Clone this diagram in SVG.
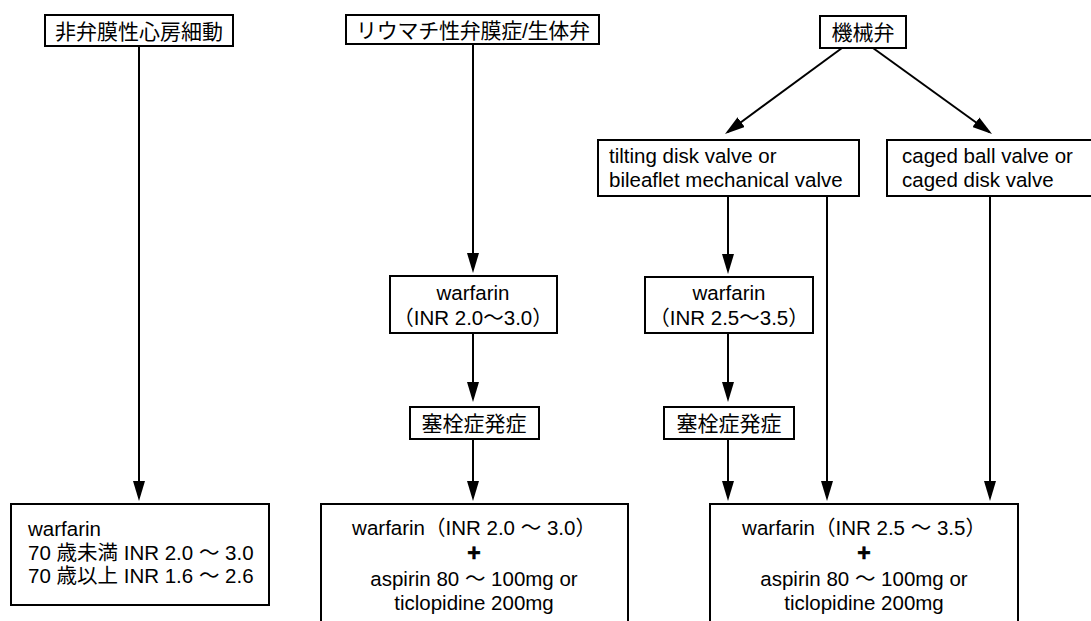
<svg xmlns="http://www.w3.org/2000/svg" width="1091" height="621" viewBox="0 0 1091 621">
<style>
.box{fill:#fff;stroke:#000;stroke-width:2}
.ln{fill:none;stroke:#000;stroke-width:2;marker-end:url(#ah)}
text{font-family:"Liberation Sans","Noto Sans CJK JP",sans-serif;fill:#000;font-size:20.5px}
.cjk{font-size:21px}
.c{text-anchor:middle}
.plus{font-size:23px;font-weight:bold;text-anchor:middle;stroke:#000;stroke-width:0.6}
</style>
<defs>
<marker id="ah" markerUnits="userSpaceOnUse" markerWidth="20" markerHeight="12" refX="17" refY="6" orient="auto">
<path d="M0,0 L20,6 L0,12 Z" fill="#000"/>
</marker>
</defs>
<rect width="1091" height="621" fill="#fff"/>

<g id="connectors">
<line class="ln" x1="139" y1="46" x2="139" y2="498"/>
<line class="ln" x1="473" y1="43" x2="473" y2="270"/>
<line class="ln" x1="473" y1="333" x2="473" y2="399"/>
<line class="ln" x1="473" y1="439" x2="473" y2="498"/>
<line class="ln" x1="842" y1="48" x2="727.4" y2="132.2"/>
<line class="ln" x1="873" y1="48" x2="989.6" y2="132.2"/>
<line class="ln" x1="728" y1="196" x2="728" y2="271"/>
<line class="ln" x1="728" y1="333" x2="728" y2="399"/>
<line class="ln" x1="728" y1="439" x2="728" y2="498"/>
<line class="ln" x1="827" y1="196" x2="827" y2="498"/>
<line class="ln" x1="990" y1="196" x2="990" y2="498"/>
</g>

<g id="n-af">
<rect class="box" x="45" y="15" width="188" height="31"/>
<text class="cjk c" x="139" y="39">非弁膜性心房細動</text>
</g>

<g id="n-rheum">
<rect class="box" x="346" y="15" width="253" height="29"/>
<text class="cjk c" x="473" y="38" textLength="234">リウマチ性弁膜症/生体弁</text>
</g>

<g id="n-mech">
<rect class="box" x="820" y="16" width="86" height="32"/>
<text class="cjk c" x="863" y="40">機械弁</text>
</g>

<g id="n-tilting">
<rect class="box" x="598" y="140" width="261" height="56"/>
<text x="609" y="163">tilting disk valve or</text>
<text x="609" y="187">bileaflet mechanical valve</text>
</g>

<g id="n-caged">
<rect class="box" x="887" y="140" width="220" height="56"/>
<text x="902" y="163">caged ball valve or</text>
<text x="902" y="187">caged disk valve</text>
</g>

<g id="n-warf1">
<rect class="box" x="390" y="276" width="167" height="57"/>
<text class="c" x="473" y="300">warfarin</text>
<text class="c" x="473" y="325">（INR 2.0～3.0）</text>
</g>

<g id="n-warf2">
<rect class="box" x="645" y="277" width="168" height="56"/>
<text class="c" x="729" y="300">warfarin</text>
<text class="c" x="729" y="325">（INR 2.5～3.5）</text>
</g>

<g id="n-emb1">
<rect class="box" x="410" y="407" width="129" height="32"/>
<text class="cjk c" x="474" y="431">塞栓症発症</text>
</g>

<g id="n-emb2">
<rect class="box" x="664" y="407" width="130" height="32"/>
<text class="cjk c" x="729" y="431">塞栓症発症</text>
</g>

<g id="n-bottom-left">
<rect class="box" x="11" y="504" width="258" height="101"/>
<text x="28" y="536">warfarin</text>
<text x="28" y="560">70 歳未満 INR 2.0 ～ 3.0</text>
<text x="28" y="583">70 歳以上 INR 1.6 ～ 2.6</text>
</g>

<g id="n-bottom-mid">
<rect class="box" x="321" y="504" width="307" height="140"/>
<text class="c" x="474" y="535">warfarin（INR 2.0 ～ 3.0）</text>
<text class="plus" x="474" y="561">+</text>
<text class="c" x="474" y="586">aspirin 80 ～ 100mg or</text>
<text class="c" x="474" y="610">ticlopidine 200mg</text>
</g>

<g id="n-bottom-right">
<rect class="box" x="710" y="504" width="308" height="140"/>
<text class="c" x="864" y="535">warfarin（INR 2.5 ～ 3.5）</text>
<text class="plus" x="864" y="561">+</text>
<text class="c" x="864" y="586">aspirin 80 ～ 100mg or</text>
<text class="c" x="864" y="610">ticlopidine 200mg</text>
</g>
</svg>
